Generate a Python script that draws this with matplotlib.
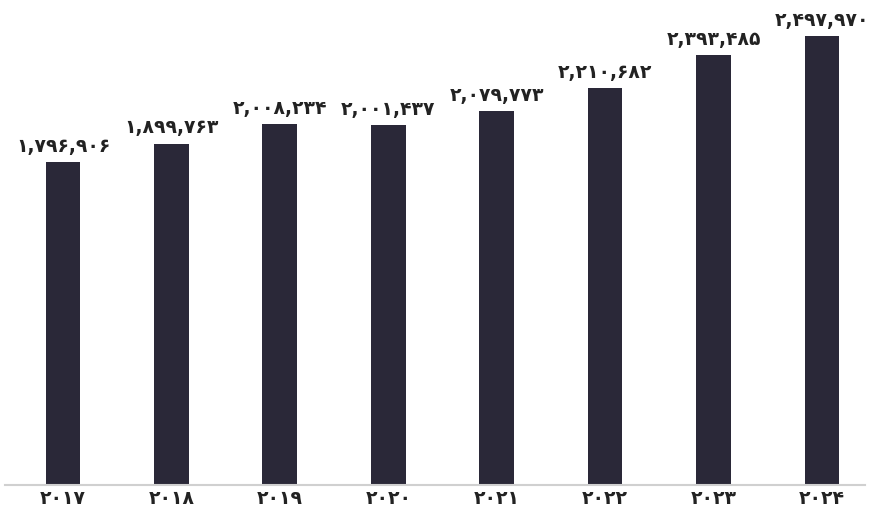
import matplotlib
matplotlib.use("Agg")
import matplotlib.pyplot as plt

years = [2017, 2018, 2019, 2020, 2021, 2022, 2023, 2024]
values = [1796906, 1899763, 2008234, 2001437, 2079773, 2210682, 2393485, 2497970]

PERSIAN_DIGITS = str.maketrans("0123456789", "۰۱۲۳۴۵۶۷۸۹")


def fa(s):
    return str(s).translate(PERSIAN_DIGITS)


bar_color = "#2a2838"

fig = plt.figure(figsize=(8.72, 5.19), dpi=100)
ax = fig.add_axes([0.0057, 0.0655, 0.9862, 0.9345])

x = list(range(len(years)))
ax.bar(x, values, width=0.32, color=bar_color, zorder=2)

for xi, v in zip(x, values):
    ax.text(xi, v + 35000, fa(f"{v:,}"), ha="center", va="bottom",
            fontsize=13.5, fontweight="bold", color="#222222",
            family=["DejaVu Sans"])

ax.set_xlim(-0.535, 7.397)
ax.set_ylim(0, 2700000)
ax.set_xticks(x)
ax.set_xticklabels([fa(y) for y in years], fontsize=13.5, fontweight="bold",
                   color="#222222", family=["DejaVu Sans"])
ax.tick_params(axis="x", length=0, pad=3)
ax.set_yticks([])
for side in ["top", "right", "left"]:
    ax.spines[side].set_visible(False)
ax.spines["bottom"].set_color("#d0d0d0")
ax.spines["bottom"].set_linewidth(1.5)

fig.savefig("out.png", dpi=100)
